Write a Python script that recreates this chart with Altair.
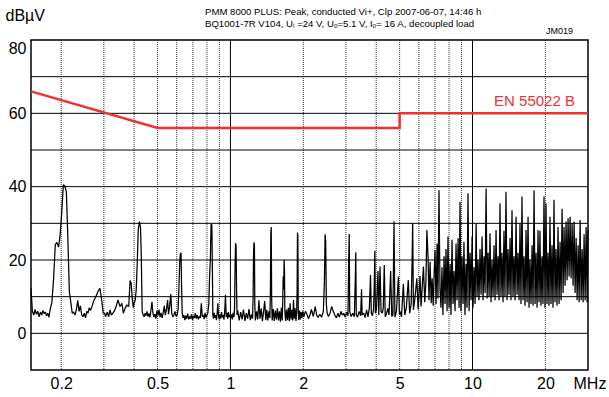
import altair as alt
import pandas as pd

# ---------------- data ----------------
# trace: (frequency MHz, level dBuV) per band
band_low = [
    (0.150, 12.3), (0.152, 6.0), (0.154, 5.0), (0.156, 6.5), (0.158, 5.2), (0.160, 6.0),
    (0.162, 4.5), (0.164, 5.8), (0.166, 5.0), (0.168, 6.2), (0.170, 5.4), (0.172, 5.8),
    (0.174, 4.8), (0.176, 5.5), (0.178, 4.4), (0.180, 6.5), (0.183, 8.5), (0.186, 15.0),
    (0.189, 24.2), (0.192, 24.8), (0.195, 23.5), (0.198, 27.0), (0.201, 33.0), (0.204, 40.5),
    (0.207, 40.2), (0.210, 38.5), (0.213, 26.0), (0.216, 11.4), (0.219, 8.5), (0.222, 5.5),
    (0.225, 5.8), (0.228, 5.0), (0.231, 6.5), (0.234, 9.0), (0.237, 6.0), (0.240, 7.5),
    (0.243, 5.0), (0.246, 4.5), (0.249, 5.5), (0.252, 4.2), (0.255, 6.0), (0.258, 5.5),
    (0.261, 7.0), (0.264, 6.2), (0.267, 7.0), (0.272, 8.8), (0.278, 10.0), (0.284, 11.5),
    (0.289, 12.3), (0.294, 9.0), (0.298, 5.5), (0.302, 5.5), (0.305, 4.6), (0.310, 5.8),
    (0.314, 4.5), (0.318, 6.4), (0.322, 5.0), (0.327, 5.5), (0.332, 6.2), (0.337, 7.3),
    (0.343, 9.1), (0.350, 7.3), (0.356, 8.2), (0.361, 5.5), (0.367, 6.8), (0.373, 7.7),
    (0.380, 7.3), (0.385, 14.4), (0.389, 13.6), (0.393, 9.5), (0.397, 7.0), (0.400, 8.2),
    (0.404, 9.0), (0.408, 11.8), (0.412, 19.0), (0.416, 28.2), (0.421, 30.5), (0.425, 29.0),
    (0.428, 21.8), (0.432, 5.9), (0.436, 5.0), (0.440, 4.5), (0.444, 5.5), (0.448, 4.8),
    (0.452, 6.0), (0.456, 4.6), (0.460, 5.4), (0.465, 4.4), (0.470, 6.5), (0.474, 8.6),
    (0.478, 5.8), (0.482, 4.5), (0.487, 5.2), (0.492, 4.0), (0.497, 6.2), (0.502, 4.8),
    (0.507, 6.5), (0.512, 4.4), (0.517, 5.6), (0.522, 4.2), (0.527, 5.5), (0.533, 7.5),
    (0.538, 5.0), (0.544, 6.5), (0.550, 9.1), (0.555, 5.2), (0.561, 7.5), (0.567, 10.7),
    (0.572, 5.5), (0.578, 4.5), (0.584, 5.0), (0.590, 6.0), (0.596, 4.6), (0.602, 5.0),
    (0.608, 6.5), (0.613, 13.0), (0.617, 19.0), (0.621, 21.6), (0.625, 22.0), (0.628, 13.6),
    (0.632, 5.5),
]
band_sub1 = [
    (0.637, 4.2), (0.642, 5.0), (0.648, 3.6), (0.654, 4.8), (0.660, 4.0), (0.666, 5.4),
    (0.672, 3.8), (0.678, 4.6), (0.684, 4.0), (0.690, 5.2), (0.697, 3.7), (0.703, 4.8),
    (0.710, 4.2), (0.716, 5.5), (0.723, 4.0), (0.730, 5.0), (0.737, 3.8), (0.744, 4.6),
    (0.751, 4.2), (0.758, 8.2), (0.765, 4.5), (0.772, 5.0), (0.779, 3.9), (0.786, 5.6),
    (0.793, 4.3), (0.800, 5.0), (0.806, 5.5), (0.814, 8.0), (0.820, 15.5), (0.826, 20.0),
    (0.832, 29.9), (0.838, 29.5), (0.842, 18.0), (0.846, 5.0), (0.851, 4.0), (0.857, 5.6),
    (0.863, 4.2), (0.869, 5.0), (0.875, 3.6), (0.881, 5.4), (0.887, 8.2), (0.893, 4.6),
    (0.899, 3.8), (0.905, 5.2), (0.912, 4.0), (0.919, 5.8), (0.926, 4.4), (0.933, 5.0),
    (0.940, 3.7), (0.947, 6.0), (0.954, 10.5), (0.960, 4.5), (0.967, 5.5), (0.974, 4.0),
    (0.981, 5.8), (0.988, 4.4), (0.995, 5.0), (1.002, 4.2), (1.010, 5.2), (1.018, 3.8),
    (1.026, 5.6), (1.034, 4.4), (1.040, 7.0), (1.045, 18.0), (1.050, 24.6), (1.055, 24.0),
    (1.060, 12.0), (1.065, 5.0),
]
band_1_2 = [
    (1.072, 6.2), (1.087, 3.5), (1.102, 5.8), (1.117, 3.8), (1.132, 6.5), (1.148, 3.4),
    (1.163, 5.5), (1.178, 4.0), (1.193, 6.6), (1.208, 3.6), (1.222, 5.2), (1.234, 4.0),
    (1.241, 10.0), (1.246, 22.0), (1.251, 24.8), (1.256, 24.0), (1.261, 8.0), (1.268, 3.5),
    (1.282, 6.0), (1.297, 3.8), (1.311, 9.0), (1.325, 4.0), (1.340, 6.8), (1.355, 3.3),
    (1.370, 5.8), (1.385, 8.8), (1.400, 3.6), (1.414, 6.4), (1.428, 3.5), (1.442, 6.0),
    (1.455, 4.2), (1.463, 12.0), (1.468, 27.0), (1.474, 29.0), (1.480, 10.0), (1.487, 3.5),
    (1.502, 6.6), (1.517, 3.4), (1.532, 6.2), (1.548, 3.8), (1.563, 6.8), (1.578, 3.5),
    (1.593, 6.0), (1.608, 3.2), (1.623, 7.0), (1.636, 3.5), (1.645, 9.0), (1.652, 15.5),
    (1.660, 12.0), (1.666, 20.0), (1.672, 17.0), (1.678, 6.0), (1.690, 3.4), (1.705, 6.5),
    (1.720, 3.6), (1.735, 7.0), (1.750, 3.3), (1.764, 8.2), (1.778, 3.8), (1.793, 6.4),
    (1.808, 3.5), (1.822, 9.1), (1.836, 4.0), (1.850, 6.8), (1.865, 3.4), (1.878, 6.0),
    (1.886, 12.0), (1.892, 27.5), (1.899, 26.5), (1.906, 6.0), (1.915, 3.6), (1.930, 6.2),
    (1.945, 3.8), (1.960, 5.8), (1.975, 4.2), (1.990, 6.0),
]
band_2_5 = [
    (2.010, 4.5), (2.040, 6.0), (2.070, 5.2), (2.100, 4.0), (2.130, 5.0), (2.160, 6.5),
    (2.200, 4.6), (2.240, 7.3), (2.270, 5.0), (2.300, 4.3), (2.340, 5.2), (2.380, 4.4),
    (2.420, 6.0), (2.445, 14.0), (2.460, 27.0), (2.475, 25.0), (2.490, 8.0), (2.510, 5.5),
    (2.540, 4.6), (2.580, 5.5), (2.620, 7.3), (2.660, 6.0), (2.700, 5.0), (2.740, 4.2),
    (2.780, 5.5), (2.820, 4.4), (2.860, 6.0), (2.900, 5.0), (2.940, 5.4), (2.980, 4.4),
    (3.020, 5.8), (3.060, 4.8), (3.080, 20.0), (3.095, 27.1), (3.110, 6.0), (3.150, 4.6),
    (3.200, 5.5), (3.250, 4.5), (3.280, 15.0), (3.295, 22.1), (3.310, 5.0), (3.350, 4.4),
    (3.400, 6.0), (3.450, 4.8), (3.480, 12.0), (3.500, 5.0), (3.550, 5.5), (3.600, 4.3),
    (3.650, 6.4), (3.700, 4.5), (3.750, 7.0), (3.790, 15.9), (3.820, 5.5), (3.860, 4.8),
    (3.900, 6.5), (3.930, 14.0), (3.950, 22.5), (3.970, 5.5), (4.010, 6.5), (4.070, 17.0),
    (4.100, 5.0), (4.150, 18.2), (4.190, 6.0), (4.240, 5.5), (4.280, 7.0), (4.320, 18.6),
    (4.360, 4.5), (4.420, 5.5), (4.470, 6.8), (4.520, 5.0), (4.590, 17.0), (4.640, 4.6),
    (4.690, 5.0), (4.740, 30.6), (4.780, 4.4), (4.850, 6.0), (4.940, 15.5), (4.990, 5.2),
]
band_5_7 = [
    (5.02, 6.0), (5.09, 4.5), (5.18, 13.5), (5.25, 5.0), (5.33, 7.0), (5.43, 14.5),
    (5.50, 5.5), (5.58, 8.0), (5.63, 20.0), (5.66, 30.0), (5.70, 6.4), (5.77, 9.0),
    (5.89, 15.0), (5.96, 6.5), (6.07, 15.6), (6.13, 7.3), (6.19, 12.0), (6.27, 18.2),
    (6.35, 8.5), (6.42, 14.0), (6.48, 28.2), (6.55, 20.9), (6.61, 9.0), (6.68, 19.5),
    (6.75, 8.2), (6.81, 15.0), (6.88, 7.5), (6.94, 16.0), (7.00, 22.7), (7.07, 8.0),
    (7.14, 24.5), (7.20, 9.5), (7.27, 39.0), (7.34, 12.0),
]
band_high = [
    (7.41, 7), (7.48, 18), (7.55, 5), (7.63, 21), (7.70, 8), (7.77, 23), (7.85, 6),
    (7.92, 26.4), (8.00, 7), (8.08, 19), (8.15, 5), (8.23, 25.5), (8.31, 8), (8.39, 17),
    (8.47, 6), (8.55, 24.5), (8.63, 9), (8.72, 25.9), (8.80, 7), (8.88, 35.9), (8.96, 6),
    (9.05, 21), (9.14, 8), (9.22, 25), (9.31, 5), (9.40, 19), (9.49, 7), (9.58, 38.2),
    (9.68, 6), (9.77, 22), (9.86, 9), (9.96, 26.4), (10.05, 7), (10.15, 18), (10.25, 8),
    (10.35, 30), (10.44, 10), (10.54, 20), (10.64, 9), (10.74, 23), (10.85, 10.5),
    (10.95, 26.4), (11.06, 9), (11.16, 21), (11.27, 11), (11.38, 39.5), (11.49, 9.5),
    (11.60, 22), (11.71, 10), (11.81, 27.3), (11.93, 8.5), (12.04, 20), (12.16, 10),
    (12.27, 24), (12.39, 9), (12.51, 28.2), (12.63, 10.5), (12.75, 21), (12.87, 9),
    (12.99, 35.5), (13.11, 10), (13.24, 22), (13.37, 8.5), (13.49, 28), (13.62, 10),
    (13.75, 38.6), (13.89, 9), (14.02, 23), (14.15, 10.5), (14.29, 26), (14.42, 9),
    (14.56, 33.6), (14.70, 10), (14.84, 21), (14.99, 9), (15.13, 31.8), (15.28, 10.5),
    (15.42, 22), (15.57, 9), (15.71, 30), (15.86, 8), (16.01, 37.3), (16.17, 9),
    (16.32, 21), (16.48, 7.5), (16.64, 28.2), (16.80, 8.5), (16.96, 31.8), (17.12, 7),
    (17.28, 20), (17.45, 8), (17.62, 24), (17.79, 7.5), (17.96, 39), (18.13, 8),
    (18.30, 22), (18.48, 7), (18.65, 28.2), (18.83, 8.5), (19.00, 28), (19.18, 7.5),
    (19.37, 21), (19.55, 8), (19.74, 37.3), (19.93, 7), (20.12, 35.5), (20.31, 8),
    (20.51, 22), (20.70, 7.5), (20.90, 31.8), (21.10, 8), (21.30, 24), (21.51, 7),
    (21.71, 36.4), (21.92, 8.5), (22.13, 23), (22.34, 7.5), (22.56, 29), (22.78, 8),
    (23.00, 25), (23.22, 9), (23.44, 34), (23.67, 11), (23.89, 29), (24.12, 13),
    (24.35, 30.5), (24.59, 14.5), (24.82, 31.4), (25.06, 15.5), (25.30, 31.8), (25.54, 15),
    (25.79, 30), (26.03, 13), (26.28, 30.5), (26.54, 11), (26.79, 26), (27.05, 9),
    (27.31, 24), (27.57, 8.5), (27.83, 30.9), (28.10, 9), (28.37, 23), (28.64, 8.5),
    (28.91, 27), (29.19, 9), (29.47, 29), (29.75, 8.5), (30.00, 28.2),
]

# EN 55022 class B limit
limit_freq = [0.15, 0.5, 5.0, 5.0, 30.0]
limit_level = [66, 56, 56, 60, 60]

# grid
grid_minor = [0.2, 0.3, 0.4, 0.5, 0.6, 0.7, 0.8, 0.9, 2, 3, 4, 5, 6, 7, 8, 9, 20]
grid_major = [1, 10]
grid_h = [0, 10, 20, 30, 40, 50, 60, 70]
x_ticks = [0.2, 0.5, 1, 2, 5, 10, 20]
y_ticks = [0, 20, 40, 60, 80]

title1 = "PMM 8000 PLUS: Peak, conducted Vi+, Clp 2007-06-07, 14:46 h"
title2 = "BQ1001-7R V104, U\u1d62 =24 V, U\u2092=5.1 V, I\u2092= 16 A, decoupled load"
code_label = "JM019"
limit_label = "EN 55022 B"

# ---------------- chart ----------------
FONT = "Liberation Sans"
RED = "#ee3030"

trace = pd.DataFrame(band_low + band_sub1 + band_1_2 + band_2_5 + band_5_7 + band_high,
                     columns=["freq", "level"])
trace["i"] = range(len(trace))
limit = pd.DataFrame({"freq": limit_freq, "level": limit_level, "i": range(len(limit_freq))})

xscale = alt.Scale(type="log", domain=[0.15, 30], nice=False)
yscale = alt.Scale(domain=[-10, 80], nice=False)

x_axis = alt.Axis(
    values=x_ticks, format="~g", ticks=False, domain=False, grid=False,
    labelFontSize=16, labelPadding=5, labelFlush=False, labelColor="#000",
    title="MHz", titleFontSize=16, titleFontWeight="normal", titleColor="#000",
    titleX=542, titleY=5, titleAlign="left", titleBaseline="top", titleAnchor="start")
y_axis = alt.Axis(
    values=y_ticks, ticks=False, domain=False, grid=False,
    labelFontSize=16, labelPadding=5, labelColor="#000", labelFlush=True,
    title="dBµV", titleFontSize=16, titleFontWeight="normal", titleColor="#000",
    titleAngle=0, titleX=-26, titleY=-25, titleAlign="left", titleBaseline="middle")

X = alt.X("freq:Q", scale=xscale, axis=x_axis)
Y = alt.Y("level:Q", scale=yscale, axis=y_axis)

minor = alt.Chart(pd.DataFrame({"freq": grid_minor})).mark_rule(
    color="#000", strokeWidth=1, strokeDash=[1, 1], opacity=0.8
).encode(x=X)

major = alt.Chart(pd.DataFrame({"freq": grid_major})).mark_rule(
    color="#000", strokeWidth=1
).encode(x=X)

hgrid = alt.Chart(pd.DataFrame({"level": grid_h})).mark_rule(
    color="#000", strokeWidth=1
).encode(y=Y)

limit_line = alt.Chart(limit).mark_line(color=RED, strokeWidth=2.5).encode(
    x=X, y=Y, order="i:Q",
)

trace_line = alt.Chart(trace).mark_line(
    color="#000", strokeWidth=1.25, strokeJoin="bevel"
).encode(x=X, y=Y, order="i:Q")

limit_text = alt.Chart(pd.DataFrame({"freq": [26.5], "level": [63.4], "t": [limit_label]})).mark_text(
    color=RED, fontSize=15, align="right", baseline="middle"
).encode(x=X, y=Y, text="t:N")

head1 = alt.Chart(pd.DataFrame({"t": [title1]})).mark_text(
    fontSize=9.6, align="left", baseline="middle", color="#000"
).encode(x=alt.value(174), y=alt.value(-28), text="t:N")
head2 = alt.Chart(pd.DataFrame({"t": [title2]})).mark_text(
    fontSize=9.6, align="left", baseline="middle", color="#000"
).encode(x=alt.value(174), y=alt.value(-16), text="t:N")
code = alt.Chart(pd.DataFrame({"t": [code_label]})).mark_text(
    fontSize=9, align="left", baseline="middle", color="#000"
).encode(x=alt.value(515), y=alt.value(-9), text="t:N")

chart = alt.layer(
    minor, major, hgrid, limit_line, trace_line, limit_text, head1, head2, code
).properties(
    width=557, height=330,
    padding={"left": 31, "top": 40, "right": 21, "bottom": 27},
    autosize=alt.AutoSizeParams(type="none"),
).configure(font=FONT).configure_view(stroke="#000", strokeWidth=1.5)

chart.save("out.html", embed_options={"renderer": "svg", "actions": False})
